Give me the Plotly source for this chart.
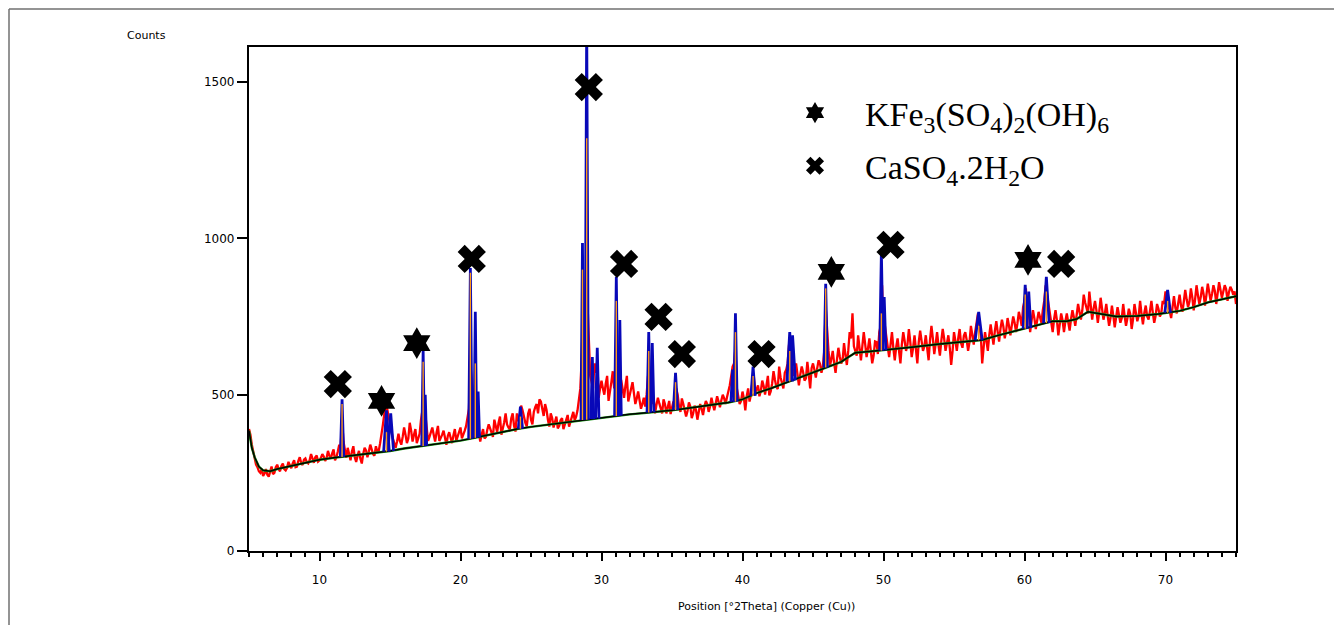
import plotly.graph_objects as go

# ---------------- data ----------------
OBS_START = 5.0
OBS_STEP = 0.1
OBS_COUNTS = (
    [390, 372, 340, 318, 290, 276, 268, 255, 250, 262, 240, 248, 262, 244, 238, 256, 270, 246, 250, 268,
     276, 262, 255, 272, 280, 262, 258, 266, 285, 274, 265, 280, 290, 268, 270, 288, 300, 282, 275, 292,
     296, 284, 280, 290, 310, 296, 282, 300, 305, 286, 290]
    + [298, 310, 302, 288, 296, 320, 305, 295, 312, 325, 290, 300, 318, 340, 330, 420, 350, 315, 298, 330,
       305, 290, 318, 335, 300, 285, 305, 320, 295, 280, 310, 330, 322, 300, 318, 340, 325, 310, 305, 335,
       318, 320, 345, 370, 405, 440, 460, 455, 430, 400]
    + [380, 360, 345, 330, 350, 375, 352, 340, 365, 395, 372, 345, 360, 410, 385, 350, 372, 390, 345, 360,
       375, 420, 455, 480, 440, 385, 352, 365, 380, 395, 372, 350, 378, 400, 352, 360, 372, 385, 362, 340,
       368, 380, 362, 345, 370, 390, 352, 365, 378, 395]
    + [360, 370, 385, 400, 430, 455, 600, 520, 480, 470, 450, 420, 380, 350, 372, 390, 360, 365, 388, 405,
       392, 375, 365, 420, 398, 380, 410, 430, 372, 390, 412, 440, 405, 395, 388, 425, 440, 400, 382, 440,
       415, 430, 465, 450, 425, 410, 398, 440, 455, 420]
    + [405, 445, 460, 470, 440, 485, 478, 455, 432, 470, 452, 420, 398, 440, 425, 395, 418, 430, 392, 400,
       418, 425, 390, 405, 412, 435, 398, 415, 428, 445, 418, 430, 450, 480, 520, 620, 800, 700, 900, 800,
       700, 560, 540, 520, 600, 570, 610, 490, 520, 545]
    + [520, 500, 535, 560, 480, 505, 540, 575, 520, 560, 600, 520, 560, 545, 510, 490, 530, 560, 478, 500,
       528, 540, 505, 470, 488, 510, 482, 455, 470, 490, 462, 500, 560, 520, 540, 470, 490, 440, 468, 490,
       472, 455, 440, 485, 470, 440, 462, 480, 438, 455]
    + [478, 470, 520, 500, 462, 445, 488, 470, 452, 430, 448, 475, 462, 425, 440, 465, 452, 420, 445, 470,
       455, 435, 462, 480, 470, 445, 462, 490, 468, 450, 472, 495, 478, 460, 482, 500, 488, 470, 492, 510,
       530, 560, 590, 600, 650, 520, 495, 470, 480, 510]
    + [488, 450, 495, 520, 478, 500, 540, 560, 505, 520, 530, 495, 512, 545, 528, 500, 530, 560, 498, 510,
       535, 575, 548, 525, 518, 590, 555, 540, 520, 570, 580, 600, 660, 640, 620, 560, 575, 600, 560, 530,
       565, 590, 572, 545, 552, 605, 565, 520, 585, 600]
    + [580, 555, 585, 610, 598, 570, 590, 640, 780, 700, 640, 590, 615, 640, 600, 570, 612, 650, 622, 600,
       610, 665, 628, 595, 640, 700, 680, 760, 655, 640, 625, 690, 650, 610, 655, 700, 662, 620, 648, 680,
       640, 600, 625, 670, 668, 630, 700, 720, 850, 700]
    + [720, 690, 655, 620, 660, 700, 648, 610, 652, 680, 640, 600, 660, 700, 672, 640, 660, 710, 668, 620,
       650, 690, 645, 600, 668, 705, 672, 640, 655, 690, 648, 610, 675, 720, 680, 630, 662, 700, 658, 625,
       672, 710, 680, 640, 665, 690, 650, 595, 640, 700]
    + [672, 640, 680, 710, 665, 650, 688, 700, 675, 640, 668, 720, 690, 660, 700, 730, 760, 720, 690, 600,
       650, 700, 672, 640, 690, 725, 692, 660, 705, 735, 700, 670, 712, 740, 718, 680, 705, 745, 720, 690,
       722, 750, 730, 700, 728, 765, 745, 720, 780, 800]
    + [840, 760, 780, 700, 735, 770, 745, 710, 738, 765, 748, 730, 770, 800, 850, 820, 790, 760, 735, 700,
       742, 770, 738, 690, 725, 760, 738, 700, 735, 760, 732, 705, 742, 770, 748, 720, 755, 790, 765, 740,
       770, 820, 795, 780, 760, 830, 790, 740, 775, 800]
    + [770, 730, 765, 810, 775, 740, 760, 790, 752, 720, 745, 785, 752, 715, 748, 780, 755, 730, 745, 790,
       752, 720, 745, 775, 758, 710, 742, 790, 762, 735, 752, 800, 758, 725, 762, 785, 750, 740, 768, 800,
       762, 730, 752, 790, 775, 750, 760, 800, 790, 830]
    + [810, 790, 772, 745, 780, 815, 778, 760, 792, 820, 785, 765, 798, 835, 805, 780, 798, 840, 812, 770,
       805, 850, 818, 790, 812, 845, 822, 785, 818, 855, 828, 800, 822, 850, 832, 790, 825, 860, 835, 810,
       830, 850, 838, 800, 828, 845, 836, 820, 830, 790]
)

BG_POS = [5.0, 5.2, 5.4, 5.7, 6.0, 6.5, 7.0, 8.0, 9.0, 10.0,
          11.0, 12.0, 13.0, 14.0, 15.0, 16.0, 17.0, 18.0, 19.0, 20.0,
          21.0, 22.0, 23.0, 24.0, 25.0, 26.0, 27.0, 28.0, 29.0, 30.0,
          31.0, 32.0, 33.0, 34.0, 35.0, 36.0, 37.0, 38.0, 39.0, 40.0,
          41.0, 42.0, 43.0, 44.0, 45.0, 46.0, 47.0, 47.5, 48.0, 49.0,
          50.0, 52.0, 54.0, 56.0, 57.0, 58.0, 59.0, 60.0, 61.0, 62.0,
          63.0, 63.7, 64.5, 65.5, 66.5, 68.0, 69.5, 71.0, 72.0, 73.0,
          74.0, 75.0]
BG_COUNTS = [385, 330, 300, 270, 258, 255, 262, 272, 282, 292,
             298, 303, 309, 314, 320, 328, 334, 340, 347, 353,
             362, 372, 381, 390, 397, 403, 408, 414, 421, 427,
             432, 437, 441, 445, 450, 456, 463, 468, 475, 485,
             505, 520, 537, 553, 570, 588, 605, 620, 634, 638,
             642, 652, 662, 670, 675, 688, 700, 710, 722, 735,
             735, 742, 765, 758, 750, 752, 758, 768, 780, 795,
             805, 815]

PEAK_POS = [11.6, 14.75, 15.05, 17.35, 17.5, 20.7, 21.05, 21.25, 24.25, 28.65,
            28.95, 29.35, 29.7, 31.05, 31.3, 33.35, 33.6, 35.25, 39.3, 39.5,
            40.75, 43.35, 43.55, 45.9, 49.85, 50.05, 56.75, 60.05, 60.3, 61.55,
            70.15]
PEAK_TOP = [485, 450, 440, 640, 500, 905, 765, 510, 462, 985,
            1700, 620, 650, 877, 739, 700, 665, 570, 580, 760,
            590, 700, 690, 855, 955, 812, 765, 851, 830, 877,
            835]
PEAK_BASE = [301, 318, 320, 336, 337, 359, 362, 364, 391, 419,
             420, 422, 424, 432, 433, 443, 444, 451, 477, 478,
             496, 542, 546, 587, 641, 642, 674, 711, 713, 729,
             762]
PEAK_FWHM = [0.12, 0.2, 0.2, 0.1, 0.1, 0.12, 0.1, 0.1, 0.15, 0.1,
             0.12, 0.1, 0.12, 0.12, 0.1, 0.12, 0.12, 0.15, 0.12, 0.12,
             0.15, 0.2, 0.2, 0.12, 0.12, 0.12, 0.25, 0.15, 0.15, 0.2,
             0.2]
ORANGE_TOP = [470, 380, None, 605, None, 890, 600, None, 430, 900,
              1320, None, None, 800, None, 640, None, 540, None, 700,
              560, 640, None, 840, 760, None, 720, 820, None, 830,
              800]

KFE_POS = [14.4, 16.9, 46.3, 60.25]
KFE_COUNTS = [480, 665, 893, 931]
GYP_POS = [11.3, 20.8, 29.1, 31.6, 34.05, 35.7, 41.35, 50.5, 62.6]
GYP_COUNTS = [534, 934, 1484, 918, 749, 630, 630, 979, 918]

X_TICKS = [10, 20, 30, 40, 50, 60, 70]
Y_TICKS = [0, 500, 1000, 1500]

# ---------------- build traces ----------------
obs_x = [round(OBS_START + i * OBS_STEP, 2) for i in range(len(OBS_COUNTS))]

calc_x, calc_y = [], []
for p, t, b, w in zip(PEAK_POS, PEAK_TOP, PEAK_BASE, PEAK_FWHM):
    calc_x += [p - w, p, p + w, None]
    calc_y += [b, t, b, None]

or_x, or_y = [], []
for p, t, b in zip(PEAK_POS, ORANGE_TOP, PEAK_BASE):
    if t is None:
        continue
    or_x += [p, p, None]
    or_y += [b, t, None]

fig = go.Figure()
fig.add_trace(go.Scatter(x=obs_x, y=OBS_COUNTS, mode="lines",
                         line=dict(color="#ff0000", width=2.3), showlegend=False,
                         hoverinfo="skip"))
fig.add_trace(go.Scatter(x=BG_POS, y=BG_COUNTS, mode="lines",
                         line=dict(color="#1a9a1a", width=2.4), showlegend=False,
                         hoverinfo="skip"))
fig.add_trace(go.Scatter(x=BG_POS, y=BG_COUNTS, mode="lines",
                         line=dict(color="#000000", width=1.5), showlegend=False,
                         hoverinfo="skip"))
fig.add_trace(go.Scatter(x=calc_x, y=calc_y, mode="lines",
                         line=dict(color="#0808b8", width=2.8), showlegend=False,
                         hoverinfo="skip"))
fig.add_trace(go.Scatter(x=or_x, y=or_y, mode="lines",
                         line=dict(color="#ff9a1a", width=1.4), showlegend=False,
                         hoverinfo="skip"))

fig.add_trace(go.Scatter(
    x=KFE_POS, y=KFE_COUNTS, mode="markers", legendgroup="a",
    name="KFe<sub>3</sub>(SO<sub>4</sub>)<sub>2</sub>(OH)<sub>6</sub>",
    marker=dict(symbol="hexagram", size=24, color="black", line=dict(width=0)),
    cliponaxis=False))
fig.add_trace(go.Scatter(
    x=GYP_POS, y=GYP_COUNTS, mode="markers", legendgroup="b",
    name="CaSO<sub>4</sub>.2H<sub>2</sub>O",
    marker=dict(symbol="x", size=25, color="black", line=dict(width=0)),
    cliponaxis=False))

# page coordinates of the plot box in the reference (body margin of 8 px)
OFF = 8
W, H = 1342 - OFF, 625 - OFF
L, R, T, B = 249, 1236, 47, 551
pw, ph = R - L, B - T


def px(xp):
    return (xp - L) / pw


def py(yp):
    return (B - yp) / ph


tick_font = dict(family="DejaVu Sans", size=12, color="black")

fig.update_layout(
    width=W, height=H,
    margin=dict(l=L - OFF, r=W - (R - OFF), t=T - OFF, b=H - (B - OFF), pad=0),
    paper_bgcolor="white", plot_bgcolor="white",
    showlegend=True,
    legend=dict(x=px(765), y=py(84), xanchor="left", yanchor="top",
                font=dict(family="Liberation Serif", size=34, color="black"),
                bgcolor="rgba(0,0,0,0)", itemwidth=90,
                traceorder="grouped", tracegroupgap=6),
    xaxis=dict(range=[5, 75], tickvals=X_TICKS, ticks="outside", ticklen=8,
               tickwidth=2, tickcolor="black", showline=True, linewidth=2.2,
               linecolor="black", mirror=True, showgrid=False, zeroline=False,
               tickfont=tick_font, ticklabelstandoff=8,
               minor=dict(dtick=1, tick0=0, ticks="outside", ticklen=4,
                          tickwidth=1.5, tickcolor="black", showgrid=False)),
    yaxis=dict(range=[0, 1612], tickvals=Y_TICKS, ticks="outside", ticklen=10,
               tickwidth=2, tickcolor="black", showline=True, linewidth=2.2,
               linecolor="black", mirror=True, showgrid=False, zeroline=False,
               tickfont=tick_font),
    annotations=[
        dict(text="Counts", xref="paper", yref="paper", x=px(146), y=py(35),
             showarrow=False, xanchor="center", yanchor="middle",
             font=dict(family="DejaVu Sans", size=11, color="black")),
        dict(text="Position [°2Theta] (Copper (Cu))", xref="paper", yref="paper",
             x=px(766), y=py(606), showarrow=False, xanchor="center",
             yanchor="middle",
             font=dict(family="DejaVu Sans", size=11, color="black")),
    ],
    shapes=[
        dict(type="line", xref="paper", yref="paper", x0=px(9), x1=px(9),
             y0=py(9), y1=py(640), line=dict(color="#707070", width=1.5)),
        dict(type="line", xref="paper", yref="paper", x0=px(9), x1=px(1350),
             y0=py(9), y1=py(9), line=dict(color="#707070", width=1.5)),
    ],
)

fig.write_html("out.html")
